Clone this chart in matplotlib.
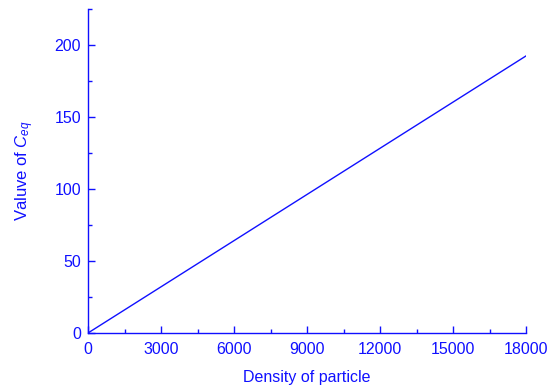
import matplotlib
matplotlib.use("Agg")
import matplotlib.pyplot as plt
from matplotlib.ticker import MultipleLocator

density = [0, 18000]
ceq = [0, 192.4]

blue = "#1010ff"
plt.rcParams['font.family'] = ['Liberation Sans', 'DejaVu Sans']
plt.rcParams['mathtext.fontset'] = 'custom'
plt.rcParams['mathtext.rm'] = 'Liberation Sans'
plt.rcParams['mathtext.it'] = 'Liberation Sans:italic'

fig = plt.figure(figsize=(5.55, 3.86), dpi=100)
ax = fig.add_axes([88/555, 1-333/386, (526-88)/555, (333-9)/386])
ax.plot(density, ceq, color=blue, lw=1.0)
ax.set_xlim(0, 18000)
ax.set_ylim(0, 225)
ax.xaxis.set_major_locator(MultipleLocator(3000))
ax.xaxis.set_minor_locator(MultipleLocator(1500))
ax.yaxis.set_major_locator(MultipleLocator(50))
ax.yaxis.set_minor_locator(MultipleLocator(25))
for s in ['top', 'right']:
    ax.spines[s].set_visible(False)
for s in ['left', 'bottom']:
    ax.spines[s].set_color(blue)
    ax.spines[s].set_linewidth(1.0)
ax.tick_params(which='major', direction='in', length=5, width=1, color=blue,
               labelcolor=blue, labelsize=11.5)
ax.tick_params(axis='x', which='major', pad=6.5)
ax.tick_params(axis='y', which='major', pad=5)
ax.tick_params(which='minor', direction='in', length=3, width=1, color=blue)
ax.set_xlabel("Density of particle", color=blue, fontsize=11.5, labelpad=9)
ax.set_ylabel("Valuve of $C_{eq}$", color=blue, fontsize=12, labelpad=13)
fig.savefig("out.png", dpi=100)
